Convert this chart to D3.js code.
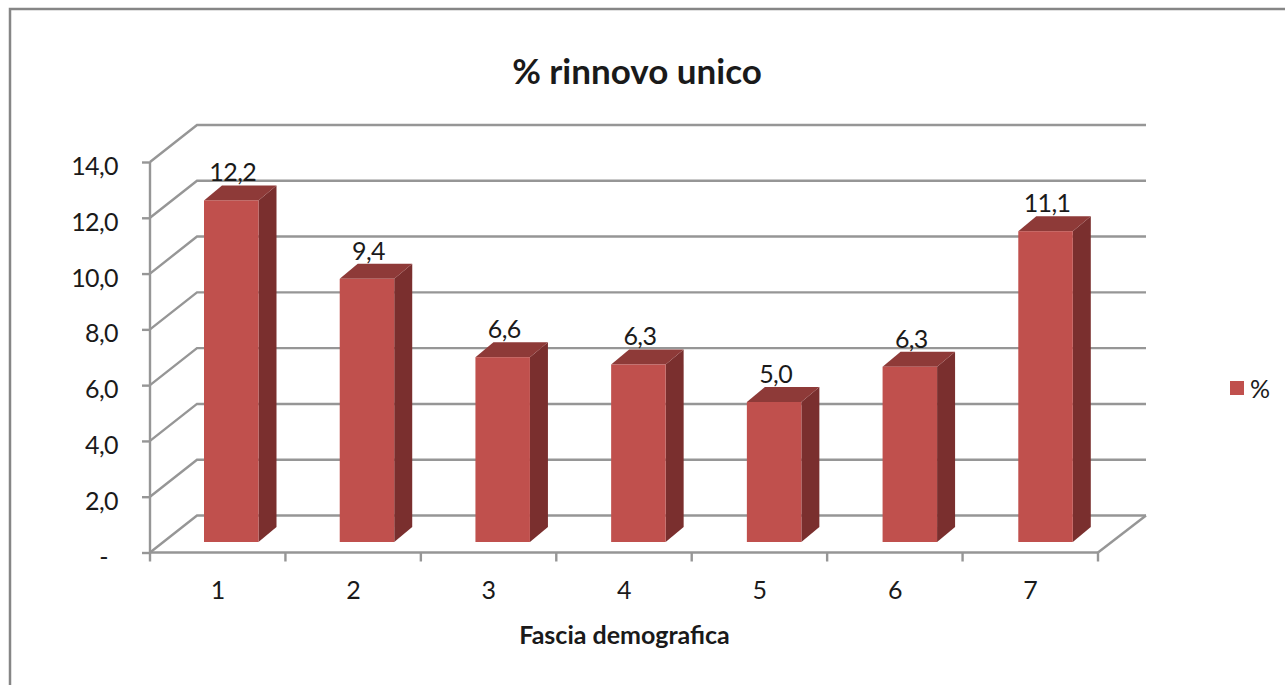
<!DOCTYPE html>
<html>
<head>
<meta charset="utf-8">
<script src="https://cdn.jsdelivr.net/npm/d3@7"></script>
<style>
html, body { margin: 0; padding: 0; background: #fff; overflow: hidden; }
text { font-family: Lato, "Open Sans", sans-serif; fill: #1a1a1a; }
.axis path { display: none; }
.axis line { stroke: #969696; stroke-width: 2.4; }
.axis text { font-size: 25px; letter-spacing: -0.6px; }
</style>
</head>
<body>
<svg id="chart" width="1285" height="685"></svg>
<script>
var categories = ["1", "2", "3", "4", "5", "6", "7"];
var values = [12.2, 9.4, 6.6, 6.34, 5.0, 6.26, 11.1];
var yTicks = [0, 2, 4, 6, 8, 10, 12, 14];
var seriesName = "%";
var chartTitle = "% rinnovo unico";
var xTitle = "Fascia demografica";

var gridColor = "#969696",
	frontColor = "#c0504d",
	topColor = "#8e3a38",
	sideColor = "#7a2f2e";

// pseudo 3d box: wall is shifted back from the front axes by depth
var depthX = 47, depthY = 37,
	barDepthX = 18, barDepthY = 15,
	barWidth = 54.5;

var it = d3.formatLocale({decimal: ",", thousands: ".", grouping: [3], currency: ["", ""]});
var fmt = it.format(".1f");

var svg = d3.select("#chart");

var x = d3.scaleBand().domain(categories).range([150, 1098]);
// bars stand inside the box so they get their own band
var barX = d3.scaleBand().domain(categories).range([163.4, 1113.4]);
var y = d3.scaleLinear().domain([0, 14]).range([552.5, 162]);
var barY = d3.scaleLinear().domain([0, 14]).range([542, 150]);

// chart frame, only top and left are in the picture
svg.append("path")
	.attr("d", "M10,685V9H1285")
	.attr("fill", "none")
	.attr("stroke", "#868686")
	.attr("stroke-width", 2.5);

svg.append("text")
	.attr("x", 637)
	.attr("y", 84)
	.attr("text-anchor", "middle")
	.style("font-size", "35px")
	.style("font-weight", "bold")
	.text(chartTitle);

// back wall gridlines and their diagonals to the front axis
var grid = svg.append("g")
	.attr("fill", "none")
	.attr("stroke", gridColor)
	.attr("stroke-width", 2.4);

grid.selectAll("path")
	.data(yTicks)
	.enter().append("path")
	.attr("d", function(d) {
		return "M150," + y(d) + "L" + (150 + depthX) + "," + (y(d) - depthY) + "H1146";
	});

// right edge of the floor
grid.append("path")
	.attr("d", "M1098," + y(0) + "L1146," + (y(0) - depthY));

// front axis lines
grid.append("path")
	.attr("d", "M150," + y(14) + "V" + y(0) + "H1098");

// category boundary ticks
svg.append("g")
	.selectAll("line")
	.data(categories.concat("end"))
	.enter().append("line")
	.attr("x1", function(d, i) { return 150 + i * x.bandwidth(); })
	.attr("x2", function(d, i) { return 150 + i * x.bandwidth(); })
	.attr("y1", y(0))
	.attr("y2", y(0) + 9)
	.attr("stroke", gridColor)
	.attr("stroke-width", 2.4);

var yAxis = d3.axisLeft(y)
	.tickValues(yTicks)
	.tickSize(8)
	.tickPadding(24)
	.tickFormat(function(d) { return d === 0 ? "-" : fmt(d); });

var yAxisG = svg.append("g")
	.attr("class", "axis")
	.attr("transform", "translate(150,0)")
	.call(yAxis);
yAxisG.selectAll("text").attr("dy", "0.62em").attr("y", -3);
// the zero dash sits further out than the numbers
yAxisG.selectAll("text").filter(function(d) { return d === 0; }).attr("x", -42);

var xAxis = d3.axisBottom(x).tickSize(0).tickPadding(29);

svg.append("g")
	.attr("class", "axis")
	.attr("transform", "translate(0," + y(0) + ")")
	.call(xAxis);

svg.append("text")
	.attr("x", 624.5)
	.attr("y", 644)
	.attr("text-anchor", "middle")
	.style("font-size", "25px")
	.style("font-weight", "bold")
	.text(xTitle);

// bars
var bar = svg.append("g").selectAll("g")
	.data(values)
	.enter().append("g")
	.attr("transform", function(d, i) {
		var left = barX(categories[i]) + barX.bandwidth() / 2 - barWidth / 2;
		return "translate(" + left + ",0)";
	});

bar.append("path")
	.attr("fill", sideColor)
	.attr("d", function(d) {
		return "M" + barWidth + "," + barY(d)
			+ "l" + barDepthX + "," + (-barDepthY)
			+ "V" + (barY(0) - barDepthY)
			+ "l" + (-barDepthX) + "," + barDepthY + "Z";
	});

bar.append("path")
	.attr("fill", topColor)
	.attr("d", function(d) {
		return "M0," + barY(d)
			+ "l" + barDepthX + "," + (-barDepthY)
			+ "h" + barWidth
			+ "l" + (-barDepthX) + "," + barDepthY + "Z";
	});

bar.append("rect")
	.attr("fill", frontColor)
	.attr("width", barWidth)
	.attr("y", function(d) { return barY(d); })
	.attr("height", function(d) { return barY(0) - barY(d); });

bar.append("text")
	.attr("x", barWidth / 2 + 1.5)
	.attr("y", function(d) { return barY(d) - 19; })
	.attr("text-anchor", "middle")
	.style("font-size", "25px")
	.style("letter-spacing", "-0.6px")
	.text(function(d) { return fmt(d); });

// legend
svg.append("rect")
	.attr("x", 1230)
	.attr("y", 381)
	.attr("width", 14)
	.attr("height", 14)
	.attr("fill", frontColor);

svg.append("text")
	.attr("x", 1250)
	.attr("y", 398)
	.style("font-size", "25px")
	.text(seriesName);
</script>
</body>
</html>
